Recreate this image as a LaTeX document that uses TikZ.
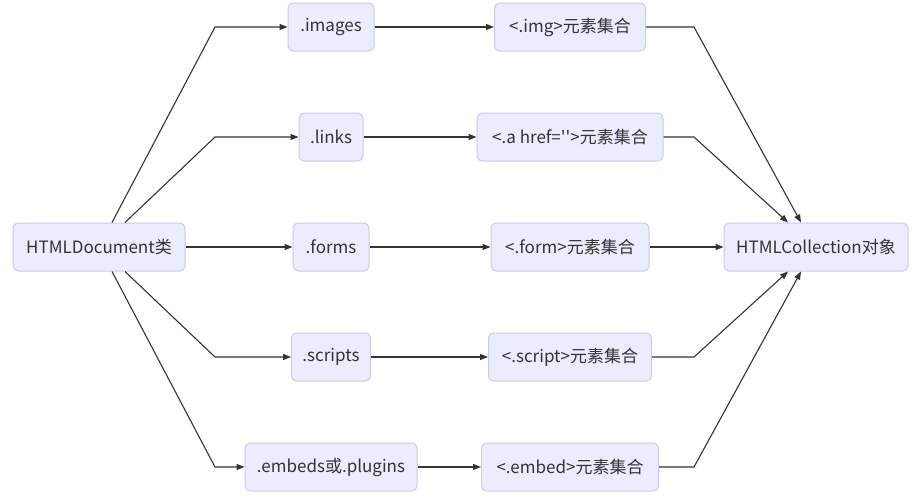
\documentclass[tikz,border=0pt]{standalone}
\usepackage{fontspec}
\setmainfont{Noto Sans CJK SC}
\usepackage{xcolor}
\usetikzlibrary{arrows.meta,positioning}

\definecolor{boxfill}{HTML}{ECECFF}
\definecolor{boxline}{HTML}{C9C9F2}
\definecolor{inkgray}{HTML}{333333}

\begin{document}
\begin{tikzpicture}[
    x=1pt, y=-1pt,
    font=\fontsize{17}{20}\selectfont,
    node distance=61pt,
    nodebox/.style={draw=boxline, fill=boxfill, rounded corners=5pt, text=inkgray, align=center, minimum height=48pt, inner xsep=0pt, line width=1pt},
    line/.style={-{Triangle[length=8pt,width=6pt]}, line width=1.1pt, draw=inkgray}
]
    \useasboundingbox (0,0) rectangle (917,496);

    % Node placement
    \node[nodebox, minimum width=172pt] (doc) at (99,247) {HTMLDocument类};
    \node[nodebox, minimum width=76pt] (forms) at (331,247) {.forms};
    \node[nodebox, minimum width=64pt, above=of forms] (links) {.links};
    \node[nodebox, minimum width=86pt, above=of links] (images) {.images};
    \node[nodebox, minimum width=79pt, below=of forms] (scripts) {.scripts};
    \node[nodebox, minimum width=172pt, below=of scripts] (embeds) {.embeds或.plugins};

    \node[nodebox, minimum width=158pt] (form) at (570,247) {<.form>元素集合};
    \node[nodebox, minimum width=186pt, above=of form] (anchor) {<.a href=\textquotesingle\textquotesingle>元素集合};
    \node[nodebox, minimum width=151pt, above=of anchor] (img) {<.img>元素集合};
    \node[nodebox, minimum width=163pt, below=of form] (script) {<.script>元素集合};
    \node[nodebox, minimum width=177pt, below=of script] (embed) {<.embed>元素集合};

    \node[nodebox, minimum width=184pt] (coll) at (816,247) {HTMLCollection对象};

    % Bend columns
    \coordinate (lbend) at (215,0);
    \coordinate (rbend) at (694,0);

    % Document to properties
    \draw[line] ([xshift=13pt]doc.north) -- (lbend |- images) -- (images);
    \draw[line] ([xshift=26pt]doc.north) -- (lbend |- links) -- (links);
    \draw[line] (doc) -- (forms);
    \draw[line] ([xshift=26pt]doc.south) -- (lbend |- scripts) -- (scripts);
    \draw[line] ([xshift=13pt]doc.south) -- (lbend |- embeds) -- (embeds);

    % Properties to element sets
    \draw[line] (images) -- (img);
    \draw[line] (links) -- (anchor);
    \draw[line] (forms) -- (form);
    \draw[line] (scripts) -- (script);
    \draw[line] (embeds) -- (embed);

    % Element sets to collection
    \draw[line] (img) -- (rbend |- img) -- ([xshift=-15pt]coll.north);
    \draw[line] (anchor) -- (rbend |- anchor) -- ([xshift=-28pt]coll.north);
    \draw[line] (form) -- (coll);
    \draw[line] (script) -- (rbend |- script) -- ([xshift=-28pt]coll.south);
    \draw[line] (embed) -- (rbend |- embed) -- ([xshift=-15pt]coll.south);

\end{tikzpicture}
\end{document}
